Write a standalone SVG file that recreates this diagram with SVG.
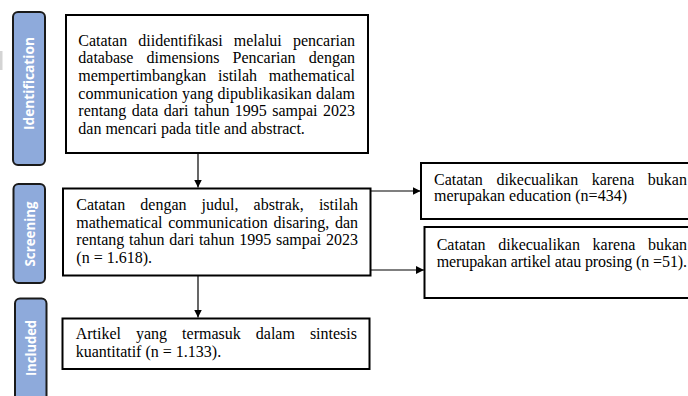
<svg xmlns="http://www.w3.org/2000/svg" width="688" height="396" viewBox="0 0 688 396">
<defs>
<style>
.box{fill:#ffffff;stroke:#000000;stroke-width:2}
.tab{fill:#8eaadb;stroke:#1a1a1a;stroke-width:2}
.tabt{font-family:"Open Sans","Liberation Sans",sans-serif;font-weight:bold;font-size:14px;fill:#ffffff;text-anchor:middle}
.t{font-family:"Liberation Serif","DejaVu Serif",serif;font-size:16px;fill:#000000}
.c{fill:none;stroke:#000000;stroke-width:1.2}
</style>
<marker id="ah" viewBox="0 0 10 10" refX="10" refY="5" markerWidth="8" markerHeight="8" markerUnits="userSpaceOnUse" orient="auto">
<path d="M0,0 L10,5 L0,10 z" fill="#000000"/>
</marker>
</defs>
<rect x="0" y="0" width="688" height="396" fill="#ffffff"/>
<rect x="0" y="51" width="2.5" height="19" fill="#d4d4d4"/>

<g id="tab-identification">
<rect class="tab" x="13" y="12" width="32" height="153" rx="5"/>
<text class="tabt" transform="translate(34,83.5) rotate(-90)" textLength="93" lengthAdjust="spacingAndGlyphs">Identification</text>
</g>
<g id="tab-screening">
<rect class="tab" x="13.5" y="184" width="31.5" height="99" rx="5"/>
<text class="tabt" transform="translate(35,234) rotate(-90)" textLength="65" lengthAdjust="spacingAndGlyphs">Screening</text>
</g>
<g id="tab-included">
<rect class="tab" x="15" y="298.5" width="31.5" height="110" rx="5"/>
<text class="tabt" transform="translate(36,348) rotate(-90)" textLength="56" lengthAdjust="spacingAndGlyphs">Included</text>
</g>

<g id="connectors">
<line class="c" x1="198" y1="153" x2="198" y2="187.5" marker-end="url(#ah)"/>
<line class="c" x1="198" y1="267" x2="198" y2="317.5" marker-end="url(#ah)"/>
<line class="c" x1="370" y1="191" x2="420.5" y2="191" marker-end="url(#ah)"/>
<line class="c" x1="370" y1="270" x2="424" y2="270" marker-end="url(#ah)"/>
</g>

<g id="node-identification" font-family="Liberation Serif, serif">
<rect class="box" x="66" y="15" width="302" height="138"/>
<text class="t" y="45.7"><tspan x="78.3">Catatan</tspan><tspan x="138.3">diidentifikasi</tspan><tspan x="233.8">melalui</tspan><tspan x="292.9">pencarian</tspan></text>
<text class="t" y="63.3"><tspan x="78.3">database</tspan><tspan x="146.5">dimensions</tspan><tspan x="232.5">Pencarian</tspan><tspan x="308.8">dengan</tspan></text>
<text class="t" y="80.9"><tspan x="78.3">mempertimbangkan</tspan><tspan x="218">istilah</tspan><tspan x="268.8">mathematical</tspan></text>
<text class="t" y="98.5"><tspan x="78.3">communication</tspan><tspan x="182.1">yang</tspan><tspan x="217.45">dipublikasikan</tspan><tspan x="315.9">dalam</tspan></text>
<text class="t" y="116.1"><tspan x="78.3">rentang</tspan><tspan x="131.67">data</tspan><tspan x="163.7">dari</tspan><tspan x="193.95">tahun</tspan><tspan x="234.87">1995</tspan><tspan x="272.24">sampai</tspan><tspan x="322.94">2023</tspan></text>
<text class="t" x="78.3" y="133.6">dan mencari pada title and abstract.</text>
</g>

<g id="node-screening">
<rect class="box" x="63" y="188.5" width="307.5" height="87"/>
<text class="t" y="210"><tspan x="76.3">Catatan</tspan><tspan x="140.3">dengan</tspan><tspan x="201.6">judul,</tspan><tspan x="253.6">abstrak,</tspan><tspan x="318.9">istilah</tspan></text>
<text class="t" y="227.7"><tspan x="76.3">mathematical</tspan><tspan x="168.27">communication</tspan><tspan x="273.6">disaring,</tspan><tspan x="334.9">dan</tspan></text>
<text class="t" y="245.3"><tspan x="76.3">rentang</tspan><tspan x="129.03">tahun</tspan><tspan x="169.31">dari</tspan><tspan x="198.92">tahun</tspan><tspan x="239.2">1995</tspan><tspan x="275.93">sampai</tspan><tspan x="325.99">2023</tspan></text>
<text class="t" x="76.3" y="263.3">(n = 1.618).</text>
</g>

<g id="node-included">
<rect class="box" x="62.5" y="318.5" width="307" height="50.5"/>
<text class="t" y="339.3"><tspan x="75.7">Artikel</tspan><tspan x="136">yang</tspan><tspan x="182.1">termasuk</tspan><tspan x="255.8">dalam</tspan><tspan x="309.9">sintesis</tspan></text>
<text class="t" x="75.7" y="357.3">kuantitatif (n = 1.133).</text>
</g>

<g id="node-excluded-education">
<rect class="box" x="421" y="163" width="290" height="56"/>
<text class="t" y="184.7"><tspan x="434">Catatan</tspan><tspan x="496.4">dikecualikan</tspan><tspan x="591.7">karena</tspan><tspan x="647.8">bukan</tspan></text>
<text class="t" x="434" y="201.3">merupakan education (n=434)</text>
</g>

<g id="node-excluded-article">
<rect class="box" x="424.5" y="227" width="290" height="71"/>
<text class="t" y="249.7"><tspan x="436.7">Catatan</tspan><tspan x="498.2">dikecualikan</tspan><tspan x="592.6">karena</tspan><tspan x="647.9">bukan</tspan></text>
<text class="t" x="436.7" y="267" textLength="250.3" lengthAdjust="spacing">merupakan artikel atau prosing (n =51).</text>
</g>
</svg>
